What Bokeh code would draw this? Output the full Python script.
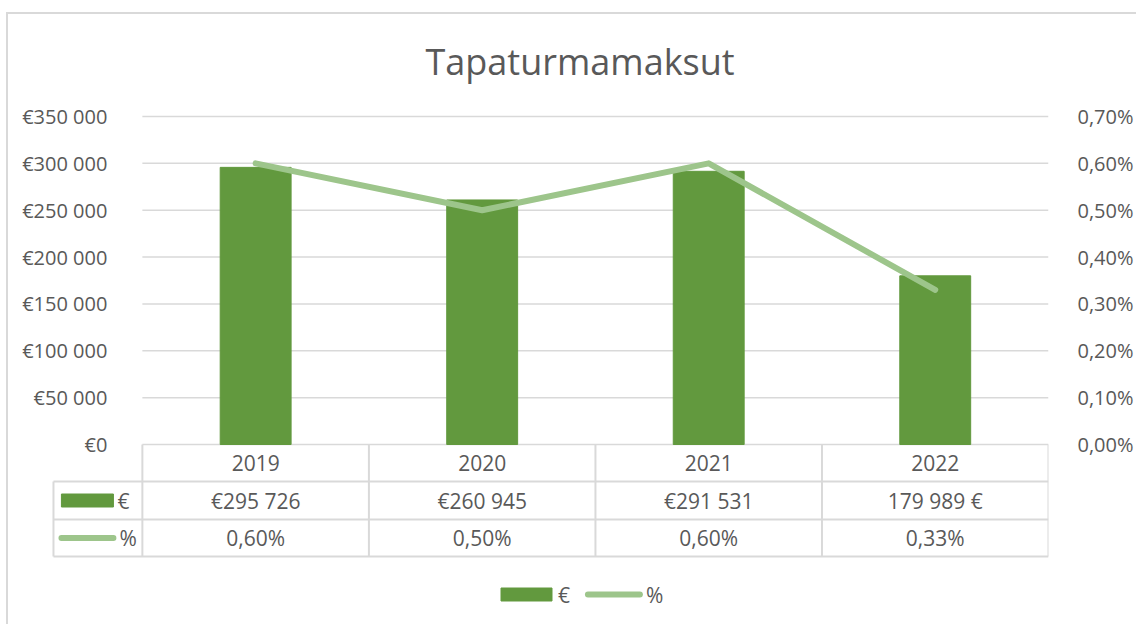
from bokeh.plotting import figure
from bokeh.layouts import column
from bokeh.models import Range1d, LinearAxis, FixedTicker
from bokeh.core.properties import value
from bokeh.embed import file_html
from bokeh.resources import INLINE

# ---------------- data ----------------
years = ["2019", "2020", "2021", "2022"]
euros = [295726, 260945, 291531, 179989]
pcts = [0.60, 0.50, 0.60, 0.33]
euro_labels = ["€295 726", "€260 945", "€291 531", "179 989 €"]
pct_labels = ["0,60%", "0,50%", "0,60%", "0,33%"]
series_names = ["€", "%"]
left_ticks = [0, 50000, 100000, 150000, 200000, 250000, 300000, 350000]
left_tick_labels = ["€0", "€50 000", "€100 000", "€150 000", "€200 000",
                    "€250 000", "€300 000", "€350 000"]
right_ticks = [0.0, 0.1, 0.2, 0.3, 0.4, 0.5, 0.6, 0.7]
right_tick_labels = ["0,00%", "0,10%", "0,20%", "0,30%", "0,40%", "0,50%",
                     "0,60%", "0,70%"]

# ---------------- style / layout ----------------
FONT = "Open Sans"
TXT = "#595959"
GRID = "#d9d9d9"
BAR = "#62993e"
LINE = "#9dc58b"
FS_AX = "20px"
FS_TB = "21px"

ORG_X, ORG_Y = 8, 14       # page position of the figure (after css margin+border)
W, H = 1128, 610
FRAME_L = 18               # page x of frame left
FRAME_TOP = 100            # page y of frame top
PLOT_L = 142               # page x of chart plot-area left edge
PLOT_R = 1049
PLOT_T = 116               # page y of the 350 000 line
PLOT_W = PLOT_R - PLOT_L
PLOT_H = 328
FRAME_H = ORG_Y + H - FRAME_TOP
UPX = 4.0 / PLOT_W
LEFT_COL = 89


def px2x(px):
    return -0.5 + (px - PLOT_L) * UPX


xs = list(range(len(years)))
x_frame_left = px2x(FRAME_L)

ymax = left_ticks[-1]
pmax = right_ticks[-1]
below = FRAME_TOP + FRAME_H - (PLOT_T + PLOT_H)
above = PLOT_T - FRAME_TOP

p = figure(width=W, height=H, output_backend="svg", toolbar_location=None,
           x_range=Range1d(x_frame_left, 3.5),
           y_range=Range1d(-below * ymax / PLOT_H, ymax + above * ymax / PLOT_H),
           min_border_left=FRAME_L - ORG_X, min_border_right=ORG_X + W - PLOT_R,
           min_border_top=FRAME_TOP - ORG_Y, min_border_bottom=0,
           x_axis_location=None, y_axis_location=None,
           title="Tapaturmamaksut")
p.outline_line_color = None
p.background_fill_color = "white"
p.grid.visible = False
p.title.align = "left"
p.title.offset = 425 - FRAME_L
p.title.text_font = FONT
p.title.text_font_size = "36px"
p.title.text_font_style = "normal"
p.title.text_color = TXT
p.title.text_line_height = 0.8
p.title.standoff = 30

p.extra_y_ranges = {"pct": Range1d(-below * pmax / PLOT_H, pmax + above * pmax / PLOT_H),
                    "tbl": Range1d(FRAME_H, 0)}

yl = LinearAxis(ticker=FixedTicker(ticks=left_ticks), fixed_location=-0.5,
                major_label_overrides=dict(zip(left_ticks, left_tick_labels)))
yr = LinearAxis(y_range_name="pct", ticker=FixedTicker(ticks=right_ticks),
                major_label_overrides=dict(zip(right_ticks, right_tick_labels)))
for ax, so in ((yl, 29), (yr, 23)):
    ax.axis_line_color = None
    ax.major_tick_line_color = None
    ax.minor_tick_line_color = None
    ax.major_label_text_font = FONT
    ax.major_label_text_font_size = FS_AX
    ax.major_label_text_color = TXT
    ax.major_label_standoff = so
p.add_layout(yl, "left")
p.add_layout(yr, "right")

# horizontal gridlines across the chart plot area
p.segment(x0=[-0.5] * len(left_ticks), x1=[3.5] * len(left_ticks),
          y0=left_ticks, y1=left_ticks, line_color=GRID, line_width=1.5)

p.vbar(x=xs, top=euros, width=0.313, color=BAR)
p.line(x=xs, y=pcts, y_range_name="pct", line_width=6, line_color=LINE,
       line_cap="round", line_join="round")

# ---------------- data table (tbl range: px below frame top) ----------------
row_edges = [444, 481, 519, 556]
row_mid = [(a + b) / 2 - FRAME_TOP for a, b in zip(row_edges[:-1], row_edges[1:])]
re = [e - FRAME_TOP for e in row_edges]
col_edges = [-0.5 + k for k in range(len(years) + 1)]
xl = px2x(PLOT_L - LEFT_COL)

p.segment(x0=[xl] * 3, x1=[3.5] * 3, y0=re[1:], y1=re[1:],
          line_color=GRID, line_width=2, y_range_name="tbl")
p.segment(x0=col_edges, x1=col_edges, y0=[re[0]] * len(col_edges),
          y1=[re[-1]] * len(col_edges), line_color=GRID, line_width=2,
          y_range_name="tbl")
p.segment(x0=[xl], x1=[xl], y0=[re[1]], y1=[re[-1]], line_color=GRID,
          line_width=2, y_range_name="tbl")

txt_kw = dict(text_font=value(FONT), text_font_size=FS_TB, text_color=TXT,
              text_align="center", text_baseline="middle", y_range_name="tbl")
p.text(x=xs, y=[row_mid[0]] * 4, text=years, **txt_kw)
p.text(x=xs, y=[row_mid[1]] * 4, text=euro_labels, **txt_kw)
p.text(x=xs, y=[row_mid[2]] * 4, text=pct_labels, **txt_kw)

lk = dict(txt_kw)
lk["text_align"] = "left"

# legend keys inside the table
p.rect(x=[px2x(87)], y=[row_mid[1]], width=52, height=13,
       width_units="screen", height_units="screen", color=BAR,
       y_range_name="tbl")
p.segment(x0=[px2x(61)], x1=[px2x(113)], y0=[row_mid[2]], y1=[row_mid[2]],
          line_width=6, line_color=LINE, line_cap="round", y_range_name="tbl")
p.text(x=[px2x(117)], y=[row_mid[1]], text=[series_names[0]], **lk)
p.text(x=[px2x(119)], y=[row_mid[2]], text=[series_names[1]], **lk)

# ---------------- bottom legend ----------------
ly = 594 - FRAME_TOP
p.rect(x=[px2x(526.5)], y=[ly], width=51, height=13, width_units="screen",
       height_units="screen", color=BAR, y_range_name="tbl")
p.text(x=[px2x(558)], y=[ly], text=[series_names[0]], **lk)
p.segment(x0=[px2x(588)], x1=[px2x(640)], y0=[ly], y1=[ly], line_width=6,
          line_color=LINE, line_cap="round", y_range_name="tbl")
p.text(x=[px2x(646)], y=[ly], text=[series_names[1]], **lk)

layout = column(p, styles={"margin-left": "6px", "margin-top": "12px",
                           "border-left": "2px solid #d9d9d9",
                           "border-top": "2px solid #d9d9d9"})

open("out.html", "w").write(file_html(layout, INLINE))
